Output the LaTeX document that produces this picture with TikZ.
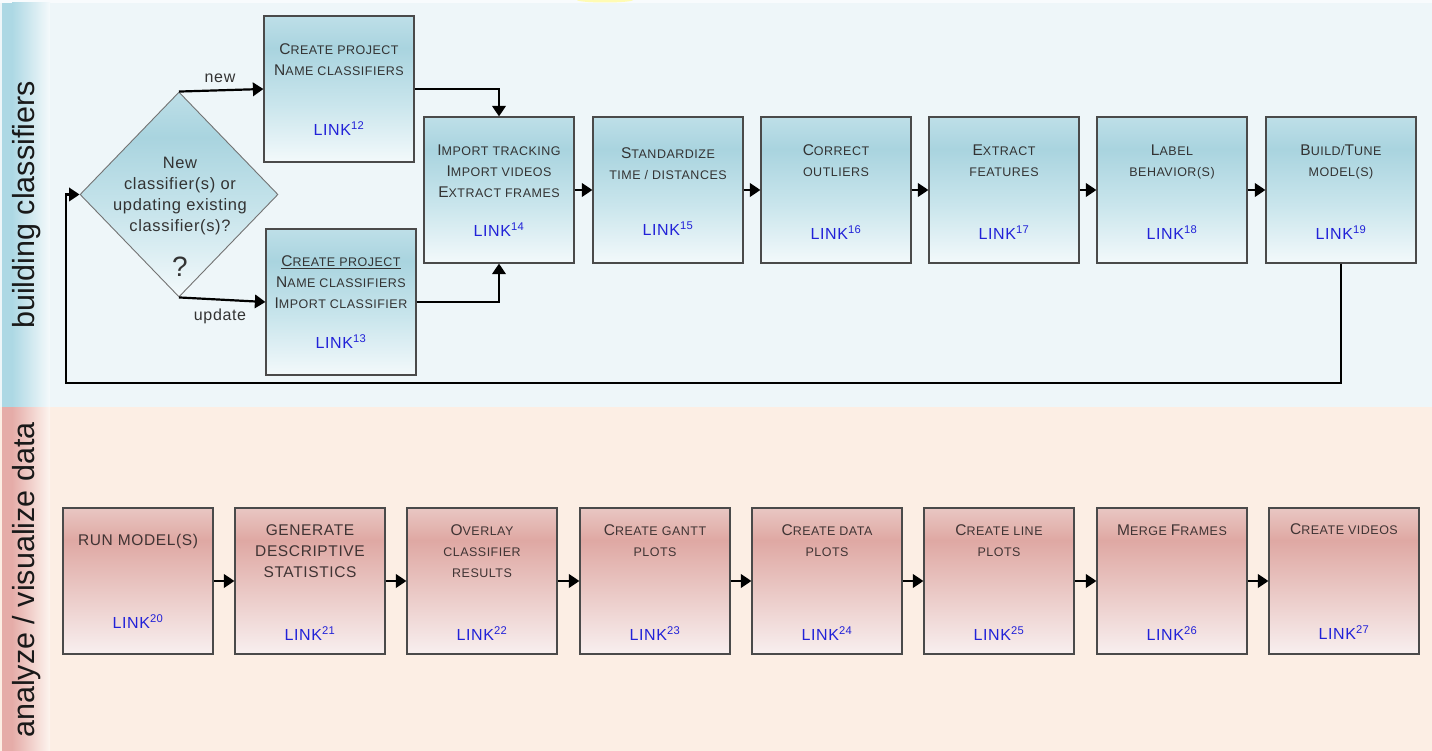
\documentclass[tikz,border=0pt]{standalone}
\usepackage{fontspec}
\setmainfont{Liberation Sans}
\newfontfamily\boxfont[LetterSpace=4]{Liberation Sans}
\usetikzlibrary{shapes.geometric,arrows.meta}
\definecolor{bandblue}{HTML}{EEF6F9}
\definecolor{bandpink}{HTML}{FCEEE4}
\definecolor{stripblue}{HTML}{ADD8E4}
\definecolor{strippink}{HTML}{E5ACA8}
\definecolor{bbot}{HTML}{F3F9FB}
\definecolor{bmid}{HTML}{C9E5EC}
\definecolor{bdark}{HTML}{A9D4DF}
\definecolor{btop}{HTML}{BEDFE8}
\definecolor{pbot}{HTML}{F8EFEF}
\definecolor{pmid}{HTML}{EBCBC8}
\definecolor{pdark}{HTML}{DFA8A3}
\definecolor{ptop}{HTML}{E9C7C3}
\definecolor{txt}{HTML}{333333}
\definecolor{ptxt}{HTML}{403434}
\definecolor{linkblue}{HTML}{2222D8}
\definecolor{bordr}{HTML}{4A4A4A}
\pgfdeclareverticalshading{blueshade}{100bp}{color(0bp)=(bbot); color(25bp)=(bbot); color(45bp)=(bmid); color(64bp)=(bdark); color(75bp)=(btop); color(100bp)=(btop)}
\pgfdeclareverticalshading{pinkshade}{100bp}{color(0bp)=(pbot); color(25bp)=(pbot); color(45bp)=(pmid); color(64bp)=(pdark); color(75bp)=(ptop); color(100bp)=(ptop)}
\newcommand\Bg[1]{{\fontsize{15.5}{21}\selectfont #1}}
\tikzset{
  bbox/.style={rectangle, draw=bordr, line width=1.2pt, shading=blueshade, minimum width=150pt, minimum height=146pt, inner sep=0pt},
  pbox/.style={rectangle, draw=bordr, line width=1.2pt, shading=pinkshade, minimum width=150pt, minimum height=146pt, inner sep=0pt},
  ttl/.style={font=\boxfont\fontsize{12.5}{21}\selectfont, text=txt, align=center, anchor=north, inner sep=0pt},
  pttl/.style={ttl, text=ptxt},
  lnk/.style={font=\boxfont\fontsize{16}{18}\selectfont, text=linkblue, inner sep=0pt},
  arr/.style={draw=black, line width=2.2pt, -{Triangle[length=10.5pt,width=13.5pt]}},
  lbl/.style={font=\boxfont\fontsize{16}{18}\selectfont, text=txt, inner sep=0pt},
  side/.style={font=\fontsize{30.5}{32}\selectfont, text=black!90, rotate=90, inner sep=0pt},
}
\begin{document}
\begin{tikzpicture}[x=1pt,y=-1pt]
\useasboundingbox (0,0) rectangle (1432,751);
% bands
\fill[bandblue] (0,0) rectangle (1432,407);
\fill[white!60!bandblue] (0,0) rectangle (1432,3);
\fill[yellow!30!white] (605,0) ellipse (28 and 2.5);
\fill[bandpink] (0,407) rectangle (1432,751);
\fill[stripblue] (2,3) rectangle (12,407);
\shade[left color=stripblue, right color=white!40!bandblue] (12,3) rectangle (50,407);
\fill[strippink] (2,407) rectangle (12,751);
\shade[left color=strippink, right color=white!40!bandpink] (12,407) rectangle (50,751);
\node[side] (s1) at (27,205) {building classifiers};
\node[side] (s2) at (27,580) {analyze / visualize data};

% decision
\node[diamond, draw=black!55, line width=0.9pt, shading=blueshade, minimum width=198pt, minimum height=205pt, inner sep=0pt] (dec) at (179,194.5) {};
\node[font=\boxfont\fontsize{16.5}{21}\selectfont, text=txt, align=center, inner sep=0pt] (dect) at (180,196) {New\\classifier(s) or\\updating existing\\classifier(s)?};
\node[font=\fontsize{28}{30}\selectfont, text=txt, inner sep=0pt] (q) at (180,267) {?};

% top boxes
\node[bbox] (n12) at (339,89) {};
\node[ttl] (t12) at ([yshift=-28pt]n12.north) {\Bg{C}REATE PROJECT\\\Bg{N}AME CLASSIFIERS};
\node[lnk] (l12) at ([yshift=-113pt]n12.north) {LINK\textsuperscript{12}};

\node[bbox] (n13) at (341,302) {};
\node[ttl] (t13) at ([yshift=-27pt]n13.north) {\underline{\Bg{C}REATE PROJECT}\\\Bg{N}AME CLASSIFIERS\\\Bg{I}MPORT CLASSIFIER};
\node[lnk] (l13) at ([yshift=-113pt]n13.north) {LINK\textsuperscript{13}};

\node[bbox] (n14) at (499,190) {};
\node[ttl] (t14) at ([yshift=-28pt]n14.north) {\Bg{I}MPORT TRACKING\\\Bg{I}MPORT VIDEOS\\\Bg{E}XTRACT FRAMES};
\node[lnk] (l14) at ([yshift=-113pt]n14.north) {LINK\textsuperscript{14}};

\node[bbox] (n15) at (668,190) {};
\node[ttl] (t15) at ([yshift=-31pt]n15.north) {\Bg{S}TANDARDIZE\\TIME / DISTANCES};
\node[lnk] (l15) at ([yshift=-112pt]n15.north) {LINK\textsuperscript{15}};

\node[bbox] (n16) at (836,190) {};
\node[ttl] (t16) at ([yshift=-28pt]n16.north) {\Bg{C}ORRECT\\OUTLIERS};
\node[lnk] (l16) at ([yshift=-116pt]n16.north) {LINK\textsuperscript{16}};

\node[bbox] (n17) at (1004,190) {};
\node[ttl] (t17) at ([yshift=-28pt]n17.north) {\Bg{E}XTRACT\\FEATURES};
\node[lnk] (l17) at ([yshift=-116pt]n17.north) {LINK\textsuperscript{17}};

\node[bbox] (n18) at (1172,190) {};
\node[ttl] (t18) at ([yshift=-28pt]n18.north) {\Bg{L}ABEL\\BEHAVIOR(S)};
\node[lnk] (l18) at ([yshift=-116pt]n18.north) {LINK\textsuperscript{18}};

\node[bbox] (n19) at (1341,190) {};
\node[ttl] (t19) at ([yshift=-28pt]n19.north) {\Bg{B}UILD/\Bg{T}UNE\\MODEL(S)};
\node[lnk] (l19) at ([yshift=-116pt]n19.north) {LINK\textsuperscript{19}};

% bottom boxes
\node[pbox] (n20) at (138,581) {};
\node[pttl] (t20) at ([yshift=-27pt]n20.north) {\Bg{RUN MODEL(S)}};
\node[lnk] (l20) at ([yshift=-114pt]n20.north) {LINK\textsuperscript{20}};

\node[pbox] (n21) at (310,581) {};
\node[pttl] (t21) at ([yshift=-17pt]n21.north) {\Bg{GENERATE}\\\Bg{DESCRIPTIVE}\\\Bg{STATISTICS}};
\node[lnk] (l21) at ([yshift=-126pt]n21.north) {LINK\textsuperscript{21}};

\node[pbox] (n22) at (482,581) {};
\node[pttl] (t22) at ([yshift=-17pt]n22.north) {\Bg{O}VERLAY\\CLASSIFIER\\RESULTS};
\node[lnk] (l22) at ([yshift=-126pt]n22.north) {LINK\textsuperscript{22}};

\node[pbox] (n23) at (655,581) {};
\node[pttl] (t23) at ([yshift=-17pt]n23.north) {\Bg{C}REATE GANTT\\PLOTS};
\node[lnk] (l23) at ([yshift=-126pt]n23.north) {LINK\textsuperscript{23}};

\node[pbox] (n24) at (827,581) {};
\node[pttl] (t24) at ([yshift=-17pt]n24.north) {\Bg{C}REATE DATA\\PLOTS};
\node[lnk] (l24) at ([yshift=-126pt]n24.north) {LINK\textsuperscript{24}};

\node[pbox] (n25) at (999,581) {};
\node[pttl] (t25) at ([yshift=-17pt]n25.north) {\Bg{C}REATE LINE\\PLOTS};
\node[lnk] (l25) at ([yshift=-126pt]n25.north) {LINK\textsuperscript{25}};

\node[pbox] (n26) at (1172,581) {};
\node[pttl] (t26) at ([yshift=-17pt]n26.north) {\Bg{M}ERGE \Bg{F}RAMES};
\node[lnk] (l26) at ([yshift=-126pt]n26.north) {LINK\textsuperscript{26}};

\node[pbox] (n27) at (1344,581) {};
\node[pttl] (t27) at ([yshift=-16pt]n27.north) {\Bg{C}REATE VIDEOS};
\node[lnk] (l27) at ([yshift=-125pt]n27.north) {LINK\textsuperscript{27}};

% connectors top
\draw[arr] (dec.north) -- (n12.west);
\draw[arr] (dec.south) -- (n13.west);
\node[lbl] (lnew) at (220,78) {new};
\node[lbl] (lupd) at (220,316) {update};
\draw[arr] (n12.east) -| (n14.north);
\draw[arr] (n13.east) -| (n14.south);
\draw[arr] (n14) -- (n15);
\draw[arr] (n15) -- (n16);
\draw[arr] (n16) -- (n17);
\draw[arr] (n17) -- (n18);
\draw[arr] (n18) -- (n19);
\coordinate (loop) at (66,383);
\draw[arr] (n19.south) |- (loop) |- (dec.west);

% connectors bottom
\draw[arr] (n20) -- (n21);
\draw[arr] (n21) -- (n22);
\draw[arr] (n22) -- (n23);
\draw[arr] (n23) -- (n24);
\draw[arr] (n24) -- (n25);
\draw[arr] (n25) -- (n26);
\draw[arr] (n26) -- (n27);
\end{tikzpicture}
\end{document}
